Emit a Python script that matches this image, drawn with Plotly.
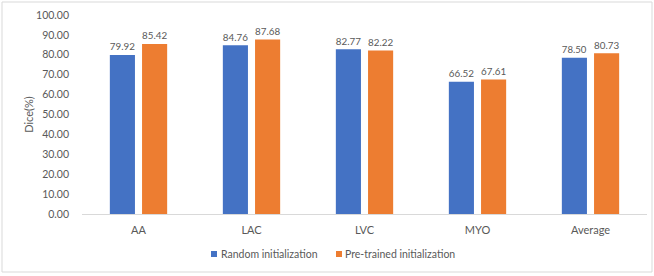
import plotly.graph_objects as go

categories = ["AA", "LAC", "LVC", "MYO", "Average"]
random_init = [79.92, 84.76, 82.77, 66.52, 78.50]
pretrained_init = [85.42, 87.68, 82.22, 67.61, 80.73]
series_names = ["Random initialization", "Pre-trained initialization"]
series_colors = ["#4472C4", "#ED7D31"]
y_ticks = [0, 10, 20, 30, 40, 50, 60, 70, 80, 90, 100]

FONT = "Lato, Carlito, Calibri, sans-serif"
GRAY = "#595959"
FS = 10.5

fig = go.Figure()
for name, vals, col in zip(series_names, [random_init, pretrained_init], series_colors):
    fig.add_trace(go.Bar(
        x=categories, y=vals, name=name, marker_color=col, marker_line_width=0,
        text=[f"{v:.2f}" for v in vals], textposition="outside",
        textfont=dict(size=FS + 0.5, color=GRAY, family=FONT), cliponaxis=False,
        showlegend=False,
    ))

L, R, T, B = 82, 7, 15, 62
W, H = 654, 276
pw, ph = W - L - R, H - T - B

def px_x(p):
    return (p - L) / pw

def px_y(p):
    return (H - B - p) / ph

# legend built as text + small squares
legend_items = [(211, 219), (336, 343)]
shapes = [dict(type="rect", xref="paper", yref="paper",
               x0=px_x(2), x1=px_x(652), y0=px_y(272), y1=px_y(2),
               line=dict(color="#D9D9D9", width=1), fillcolor="rgba(0,0,0,0)", layer="below")]
annotations = []
for (sx, tx), name, col in zip(legend_items, series_names, series_colors):
    shapes.append(dict(type="rect", xref="paper", yref="paper",
                       x0=px_x(sx), x1=px_x(sx + 6), y0=px_y(257), y1=px_y(251),
                       line=dict(width=0), fillcolor=col))
    annotations.append(dict(text=name, xref="paper", yref="paper", x=px_x(tx), y=px_y(254),
                            xanchor="left", yanchor="middle", showarrow=False,
                            font=dict(size=FS, color=GRAY, family=FONT)))

fig.update_layout(
    width=W, height=H,
    margin=dict(l=L, r=R, t=T, b=B, pad=0),
    paper_bgcolor="white", plot_bgcolor="white",
    font=dict(family=FONT, size=FS, color=GRAY),
    barmode="group", bargap=0.43, bargroupgap=0.22,
    showlegend=False,
    xaxis=dict(showline=True, linecolor="#D9D9D9", linewidth=1, ticks="",
               tickfont=dict(size=FS + 0.5, color=GRAY), showgrid=False, ticklabelstandoff=6),
    yaxis=dict(range=[0, 100], tickvals=y_ticks, tickformat=".2f", showgrid=False,
               zeroline=False, showline=False, ticks="", ticklabelstandoff=12,
               tickfont=dict(size=FS, color=GRAY),
               title=dict(text="Dice(%)", font=dict(size=FS + 0.5, color=GRAY), standoff=0)),
    shapes=shapes,
    annotations=annotations,
)

fig.write_html("out.html", config={"displayModeBar": False},
               post_script="document.body.style.margin='0';document.body.style.overflow='hidden';")
